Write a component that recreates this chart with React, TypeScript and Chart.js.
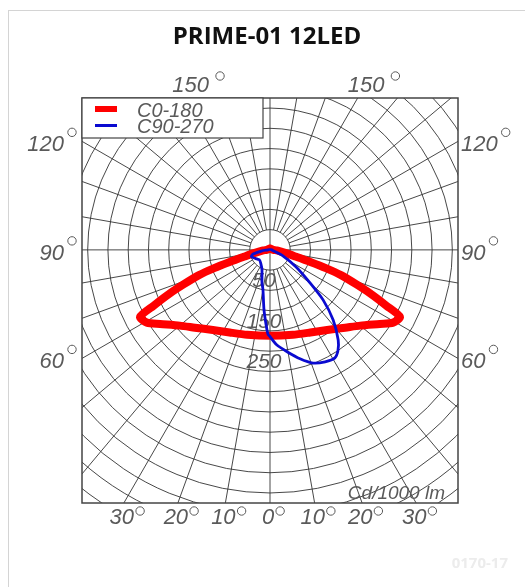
import React, { useEffect, useRef } from 'react';
import { Chart, registerables } from 'chart.js';

Chart.register(...registerables);

// ---- text ----
const TITLE = 'PRIME-01 12LED';
const CODE_LABEL = '0170-17';
const UNIT_LABEL = 'Cd/1000 lm';
const SERIES_NAMES = ['C0-180', 'C90-270'];

// ---- C0-180 plane (symmetric): gamma in degrees, intensity in cd/1000 lm ----
const C0_GAMMA = [0, 15, 26, 35.5, 44, 50, 56, 59.4, 62.7, 64.4, 66.3, 68.2, 70.4, 71.9, 73.3, 75.4, 78.7, 85.9, 90, 120, 150, 180];
const C0_CD = [212, 217, 227, 243, 267, 291, 327, 353, 361, 318, 274, 230, 186, 145, 104, 64, 38, 17, 8, 4, 3, 3];

// ---- C90 half-plane (right side) ----
const C90_GAMMA = [0, 4, 9.5, 15.4, 20.8, 26.2, 31, 34, 37.1, 42, 46.7, 50.5, 56.8, 65.2, 76, 90, 120, 180];
const C90_CD = [214, 235, 255, 279, 299, 308, 311, 300, 279, 233, 180, 128, 77, 35, 8, 4, 2, 2];

// ---- C270 half-plane (left side) ----
const C270_GAMMA = [0, 1.4, 3, 5.7, 10, 14, 22, 35, 47, 60, 70, 76, 83, 90, 120, 180];
const C270_CD = [214, 208, 185, 149, 100, 82, 53, 40, 36, 42, 49, 43, 20, 5, 2, 2];

// ---- grid / scale ----
const X_RANGE = [-464, 464];
const Y_RANGE = [-625, 375];
const RING_VALUES = [50, 100, 150, 200, 250, 300, 350, 400, 450, 500, 550, 600, 650, 700, 750, 800];
const SPOKE_ANGLES = [10, 20, 30, 40, 50, 60, 70, 80, 100, 110, 120, 130, 140, 150, 160, 170, 190, 200, 210, 220, 230, 240, 250, 260, 280, 290, 300, 310, 320, 330, 340, 350];
const RING_LABELS = [50, 150, 250];
const SIDE_ANGLE_LABELS = [120, 90, 60];
const TOP_ANGLE_LABELS = [150];
const BOTTOM_ANGLE_LABELS = [-30, -20, -10, 0, 10, 20, 30];

const RED = '#ff0000';
const BLUE = '#0a0ad0';
const GRID = '#333333';
const LABEL = '#5a5a5a';
const LABEL_FONT = 'italic 20px "Liberation Sans Narrow", "Liberation Sans", sans-serif';

const rad = (d: number) => (d * Math.PI) / 180;

function buildCurve(leftG: number[], leftI: number[], rightG: number[], rightI: number[]) {
  const pts: { x: number; y: number }[] = [];
  for (let i = leftG.length - 1; i >= 0; i--) {
    pts.push({ x: -leftI[i] * Math.sin(rad(leftG[i])), y: -leftI[i] * Math.cos(rad(leftG[i])) });
  }
  for (let i = 1; i < rightG.length; i++) {
    pts.push({ x: rightI[i] * Math.sin(rad(rightG[i])), y: -rightI[i] * Math.cos(rad(rightG[i])) });
  }
  return pts;
}

function drawDegree(ctx: CanvasRenderingContext2D, x: number, y: number) {
  ctx.save();
  ctx.beginPath();
  ctx.arc(x, y, 4.2, 0, Math.PI * 2);
  ctx.lineWidth = 1;
  ctx.strokeStyle = LABEL;
  ctx.stroke();
  ctx.restore();
}

const polarPlugin = {
  id: 'polarGrid',
  beforeDatasetsDraw(chart: any) {
    const { ctx, chartArea: a, scales } = chart;
    const xs = scales.x;
    const ys = scales.y;
    const cx = xs.getPixelForValue(0);
    const cy = ys.getPixelForValue(0);
    const pxPer = (v: number) => xs.getPixelForValue(v) - cx;
    ctx.save();
    ctx.beginPath();
    ctx.rect(a.left, a.top, a.right - a.left, a.bottom - a.top);
    ctx.clip();
    ctx.strokeStyle = GRID;
    ctx.lineWidth = 0.9;
    RING_VALUES.forEach((v) => {
      ctx.beginPath();
      ctx.arc(cx, cy, pxPer(v), 0, Math.PI * 2);
      ctx.stroke();
    });
    const r0 = pxPer(RING_VALUES[0]);
    const r1 = pxPer(2000);
    SPOKE_ANGLES.forEach((g) => {
      const sx = Math.sin(rad(g));
      const sy = Math.cos(rad(g));
      ctx.beginPath();
      ctx.moveTo(cx + r0 * sx, cy + r0 * sy);
      ctx.lineTo(cx + r1 * sx, cy + r1 * sy);
      ctx.stroke();
    });
    ctx.beginPath();
    ctx.moveTo(cx, a.top);
    ctx.lineTo(cx, a.bottom);
    ctx.moveTo(a.left, cy);
    ctx.lineTo(a.right, cy);
    ctx.stroke();

    ctx.fillStyle = LABEL;
    ctx.font = 'italic 21px "Liberation Sans Narrow", "Liberation Sans", sans-serif';
    ctx.textAlign = 'center';
    ctx.textBaseline = 'alphabetic';
    RING_LABELS.forEach((v) => {
      const y = ys.getPixelForValue(-v);
      ctx.fillText(String(v), cx - 6, y + 17);
    });
    ctx.textAlign = 'right';
    ctx.font = 'italic 19px "Liberation Sans Narrow", "Liberation Sans", sans-serif';
    ctx.fillText(UNIT_LABEL, a.right - 13, a.bottom - 4);
    ctx.restore();
  },
  afterDatasetsDraw(chart: any) {
    const { ctx, chartArea: a, scales, width } = chart;
    const xs = scales.x;
    const ys = scales.y;
    const cx = xs.getPixelForValue(0);
    const cy = ys.getPixelForValue(0);
    ctx.save();
    // frame
    ctx.strokeStyle = '#444444';
    ctx.lineWidth = 1.5;
    ctx.strokeRect(a.left, a.top, a.right - a.left, a.bottom - a.top);

    // legend
    const lw = 181;
    const lh = 40;
    ctx.fillStyle = '#ffffff';
    ctx.fillRect(a.left, a.top, lw, lh);
    ctx.lineWidth = 1.2;
    ctx.strokeRect(a.left, a.top, lw, lh);
    ctx.lineCap = 'butt';
    ctx.strokeStyle = RED;
    ctx.lineWidth = 6;
    ctx.beginPath();
    ctx.moveTo(a.left + 13, a.top + 11);
    ctx.lineTo(a.left + 35, a.top + 11);
    ctx.stroke();
    ctx.strokeStyle = BLUE;
    ctx.lineWidth = 3;
    ctx.beginPath();
    ctx.moveTo(a.left + 13, a.top + 27.5);
    ctx.lineTo(a.left + 35, a.top + 27.5);
    ctx.stroke();
    ctx.fillStyle = LABEL;
    ctx.font = LABEL_FONT;
    ctx.textAlign = 'left';
    ctx.textBaseline = 'alphabetic';
    ctx.fillText(SERIES_NAMES[0], a.left + 55, a.top + 18.5);
    ctx.fillText(SERIES_NAMES[1], a.left + 55, a.top + 35);

    // angle labels
    ctx.font = 'italic 22px "Liberation Sans Narrow", "Liberation Sans", sans-serif';
    const halfW = a.right - cx;
    SIDE_ANGLE_LABELS.forEach((g) => {
      const y = cy - halfW * Math.tan(rad(g - 90));
      ctx.textAlign = 'right';
      ctx.fillText(String(g), a.left - 18, y + 10);
      drawDegree(ctx, a.left - 10, y - 9);
      ctx.textAlign = 'left';
      ctx.fillText(String(g), a.right + 3, y + 10);
      const w = ctx.measureText(String(g)).width;
      drawDegree(ctx, a.right + 3 + w + 8, y - 9);
    });
    const halfH = cy - a.top;
    TOP_ANGLE_LABELS.forEach((g) => {
      const dx = halfH * Math.tan(rad(180 - g));
      const w = ctx.measureText(String(g)).width;
      ctx.textAlign = 'left';
      [-1, 1].forEach((s) => {
        const x0 = cx + s * dx - 10;
        ctx.fillText(String(g), x0, a.top - 6);
        drawDegree(ctx, x0 + w + 11, a.top - 22);
      });
    });
    const downH = a.bottom - cy;
    BOTTOM_ANGLE_LABELS.forEach((g) => {
      const x = cx + downH * Math.tan(rad(g));
      const t = String(Math.abs(g));
      const w = ctx.measureText(t).width;
      const unit = w + 10;
      const x0 = x + 3 - unit / 2;
      ctx.textAlign = 'left';
      ctx.fillText(t, x0, a.bottom + 21);
      drawDegree(ctx, x0 + w + 6, a.bottom + 8);
    });

    // title + code
    ctx.fillStyle = '#111111';
    ctx.font = 'bold 24px "Open Sans", "Noto Sans", sans-serif';
    ctx.textAlign = 'center';
    ctx.fillText(TITLE, 267, 43.5);
    ctx.fillStyle = '#ececec';
    ctx.font = 'bold 15px "Open Sans", "Noto Sans", sans-serif';
    ctx.textAlign = 'right';
    ctx.fillText(CODE_LABEL, width - 17, 568);
    ctx.restore();
  },
};

export default function App() {
  const ref = useRef<HTMLCanvasElement | null>(null);
  useEffect(() => {
    document.body.style.overflow = 'hidden';
    const canvas = ref.current;
    if (!canvas) return;
    const chart = new Chart(canvas, {
      type: 'scatter',
      data: {
        datasets: [
          {
            label: SERIES_NAMES[0],
            data: buildCurve(C0_GAMMA, C0_CD, C0_GAMMA, C0_CD),
            showLine: true,
            borderColor: RED,
            backgroundColor: RED,
            borderWidth: 8,
            pointRadius: 0,
            tension: 0.25,
            borderJoinStyle: 'round',
            borderCapStyle: 'round',
            order: 1,
          },
          {
            label: SERIES_NAMES[1],
            data: buildCurve(C270_GAMMA, C270_CD, C90_GAMMA, C90_CD),
            showLine: true,
            borderColor: BLUE,
            backgroundColor: BLUE,
            borderWidth: 2.8,
            pointRadius: 0,
            tension: 0.25,
            borderJoinStyle: 'round',
            order: 0,
          },
        ],
      },
      options: {
        responsive: false,
        animation: false,
        layout: { padding: { left: 82, top: 98, right: 67, bottom: 84 } },
        scales: {
          x: { type: 'linear', min: X_RANGE[0], max: X_RANGE[1], display: false },
          y: { type: 'linear', min: Y_RANGE[0], max: Y_RANGE[1], display: false },
        },
        plugins: {
          legend: { display: false },
          tooltip: { enabled: false },
          title: { display: false },
        },
      },
      plugins: [polarPlugin],
    } as any);
    return () => chart.destroy();
  }, []);

  return (
    <div style={{ position: 'fixed', left: 0, top: 0, width: 525, height: 587, overflow: 'hidden', background: '#fff' }}>
      <div
        style={{
          position: 'absolute',
          left: 8,
          top: 10,
          width: 700,
          height: 800,
          border: '1px solid #d4d4d4',
          boxSizing: 'border-box',
        }}
      />
      <canvas ref={ref} width={525} height={587} style={{ position: 'absolute', left: 0, top: 0 }} />
    </div>
  );
}
